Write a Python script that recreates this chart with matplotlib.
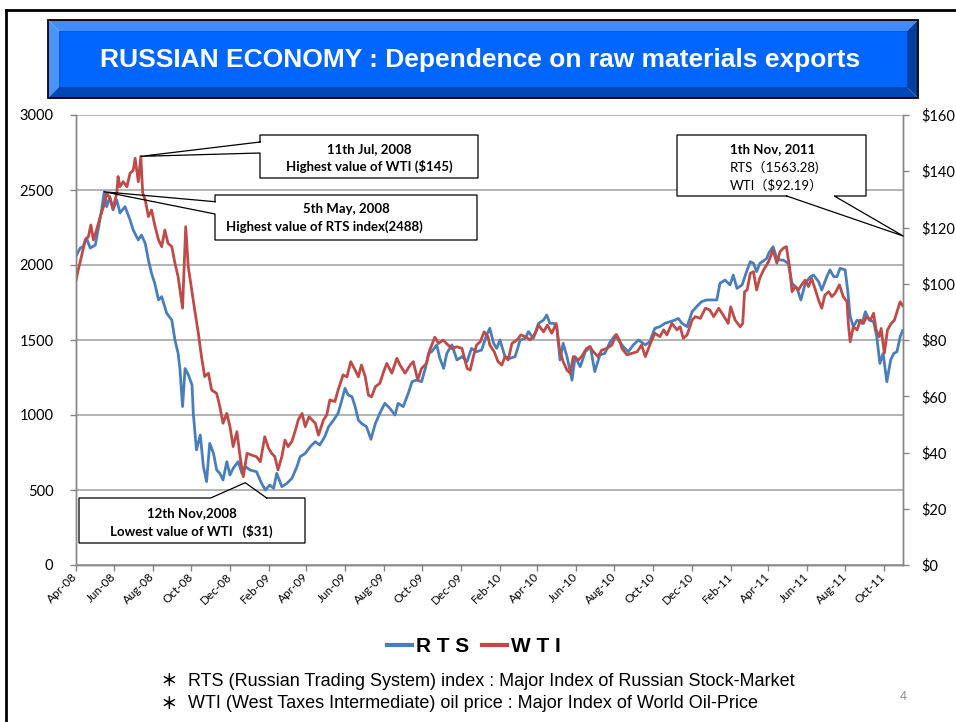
import datetime as dt

import matplotlib
matplotlib.use("Agg")
import matplotlib.pyplot as plt
import matplotlib.dates as mdates
from matplotlib.lines import Line2D
from matplotlib.patches import Polygon, Rectangle
from matplotlib.ticker import FuncFormatter

# ─── Data ─────────────────────────────────────────────────────────────────────
# days counted from 1 Apr 2008
START = dt.date(2008, 4, 1)

rts_day = [0, 7, 12, 17, 23, 31, 36, 41, 45, 49, 54, 59, 65, 70, 78, 86, 91, 99, 104, 110,
           115, 120, 125, 131, 136, 144, 152, 157, 162, 165, 169, 173, 178, 184, 186, 191, 197, 202, 207, 212,
           218, 223, 228, 233, 239, 244, 249, 257, 263, 268, 276, 286, 294, 300, 307, 313, 318, 326, 334, 342,
           350, 355, 363, 371, 379, 386, 394, 400, 408, 415, 421, 426, 431, 437, 442, 447, 452, 460, 467, 474,
           481, 489, 497, 505, 510, 518, 526, 532, 539, 547, 553, 558, 563, 571, 576, 582, 587, 595, 603, 611,
           619, 626, 634, 642, 650, 655, 661, 666, 671, 679, 687, 695, 703, 711, 716, 724, 732, 740, 745, 750,
           756, 761, 766, 771, 777, 785, 790, 798, 806, 814, 821, 829, 837, 845, 853, 866, 874, 882, 890, 901,
           908, 916, 924, 932, 940, 948, 953, 959, 967, 975, 982, 990, 998, 1014, 1019, 1027, 1035, 1040, 1046, 1054,
           1062, 1067, 1072, 1077, 1082, 1093, 1096, 1103, 1109, 1114, 1119, 1127, 1133, 1141, 1147, 1154, 1162, 1167, 1175, 1180,
           1188, 1193, 1199, 1204, 1209, 1217, 1221, 1225, 1230, 1236, 1244, 1249, 1255, 1262, 1267, 1272, 1277, 1283, 1289, 1294,
           1299, 1304, 1308]
rts_val = [2055, 2113, 2122, 2180, 2113, 2133, 2247, 2367, 2488, 2389, 2455, 2367, 2433, 2347, 2389, 2300, 2233, 2167, 2200, 2144,
           2033, 1944, 1878, 1767, 1789, 1678, 1633, 1500, 1411, 1300, 1056, 1310, 1270, 1200, 1011, 767, 867, 656, 556, 811,
           744, 633, 611, 567, 689, 600, 644, 689, 611, 656, 633, 622, 544, 500, 533, 511, 611, 522, 544, 578,
           656, 722, 744, 789, 822, 800, 856, 922, 967, 1011, 1100, 1178, 1133, 1122, 1056, 967, 944, 922, 838, 944,
           1011, 1078, 1044, 1000, 1078, 1056, 1144, 1222, 1233, 1222, 1311, 1411, 1422, 1467, 1378, 1311, 1411, 1467, 1367, 1389,
           1356, 1444, 1422, 1433, 1533, 1578, 1478, 1444, 1500, 1389, 1378, 1389, 1500, 1511, 1556, 1511, 1611, 1633, 1667, 1611,
           1611, 1589, 1367, 1478, 1389, 1233, 1389, 1322, 1422, 1456, 1289, 1400, 1411, 1485, 1530, 1456, 1422, 1467, 1500, 1467,
           1489, 1578, 1589, 1611, 1622, 1633, 1644, 1611, 1589, 1689, 1722, 1756, 1767, 1767, 1878, 1900, 1867, 1933, 1844, 1867,
           1967, 2022, 2011, 1956, 2010, 2044, 2078, 2122, 2044, 2033, 2033, 2011, 1878, 1844, 1767, 1878, 1922, 1933, 1889, 1833,
           1922, 1967, 1922, 1922, 1978, 1967, 1833, 1656, 1589, 1633, 1611, 1689, 1633, 1622, 1522, 1344, 1411, 1222, 1367, 1411,
           1422, 1522, 1563]

wti_day = [0, 4, 9, 15, 20, 24, 28, 33, 38, 44, 49, 54, 59, 65, 67, 70, 75, 81, 86, 91,
           94, 99, 103, 106, 110, 115, 120, 125, 131, 136, 141, 146, 152, 157, 162, 169, 174, 178, 184, 189,
           194, 199, 204, 210, 215, 223, 228, 233, 239, 244, 249, 255, 260, 265, 271, 278, 286, 292, 299, 305,
           310, 315, 320, 326, 331, 336, 342, 347, 352, 358, 363, 369, 379, 384, 392, 397, 402, 410, 415, 423,
           429, 435, 442, 447, 452, 458, 463, 468, 474, 481, 487, 492, 500, 508, 513, 521, 529, 534, 541, 547,
           555, 560, 568, 574, 581, 589, 595, 603, 611, 619, 624, 629, 634, 640, 646, 652, 655, 662, 668, 674,
           679, 684, 690, 698, 704, 711, 719, 727, 732, 740, 746, 753, 760, 765, 771, 777, 782, 787, 795, 800,
           808, 813, 819, 826, 832, 840, 848, 855, 860, 864, 872, 880, 888, 895, 901, 908, 916, 924, 930, 935,
           943, 951, 956, 961, 967, 975, 980, 988, 996, 1003, 1009, 1017, 1024, 1032, 1036, 1043, 1051, 1055, 1058, 1062,
           1067, 1072, 1077, 1082, 1088, 1096, 1103, 1109, 1114, 1119, 1124, 1129, 1133, 1138, 1143, 1148, 1154, 1159, 1164, 1170,
           1175, 1180, 1185, 1191, 1196, 1201, 1208, 1214, 1220, 1222, 1225, 1230, 1236, 1241, 1246, 1251, 1257, 1262, 1266, 1271,
           1274, 1279, 1284, 1290, 1295, 1300, 1304, 1308]
wti_val = [100.7, 104.9, 109.6, 115.6, 116.7, 120.9, 115.6, 119.1, 123.3, 127.4, 132.2, 130.4, 126.8, 132.2, 138.1, 134.5, 136.3, 134.5, 139.3, 140.4,
           144.6, 136.3, 145.3, 132.2, 129.8, 123.9, 126.2, 120.9, 115.6, 113.2, 119.1, 114.4, 113.2, 107.3, 102.5, 91.3, 120.3, 106.1, 97.0, 89.5,
           82.4, 74.0, 67.0, 68.2, 62.2, 61.0, 56.3, 50.4, 53.9, 49.2, 42.1, 47.4, 38.5, 31.4, 39.7, 39.1, 38.5, 36.7, 45.6, 41.5,
           39.7, 38.5, 33.8, 38.5, 44.4, 42.1, 44.0, 47.5, 51.6, 53.9, 49.2, 52.7, 50.4, 46.2, 51.6, 53.3, 58.7, 58.1, 62.2, 67.6,
           66.9, 72.3, 69.3, 66.9, 71.1, 66.9, 60.4, 59.8, 63.4, 64.6, 68.7, 71.7, 68.2, 73.5, 71.1, 68.2, 71.1, 72.3, 65.8, 69.9,
           71.7, 76.4, 81.0, 78.8, 80.0, 78.2, 77.0, 77.6, 77.0, 69.9, 69.3, 74.1, 78.2, 79.4, 82.9, 81.2, 78.2, 75.8, 72.3, 71.1,
           74.1, 72.9, 78.8, 80.0, 81.8, 81.2, 80.0, 82.4, 85.3, 82.9, 85.3, 82.4, 85.9, 77.0, 72.3, 69.3, 68.2, 74.1, 72.9, 74.1,
           77.0, 77.6, 75.8, 74.1, 76.4, 77.0, 78.2, 82.0, 80.0, 77.0, 74.7, 75.3, 75.8, 78.2, 74.1, 78.2, 82.4, 81.2, 83.6, 81.8,
           85.9, 83.6, 84.7, 80.6, 81.8, 87.1, 88.3, 87.7, 91.3, 90.7, 88.3, 91.3, 88.9, 85.9, 91.8, 87.1, 84.7, 85.9, 97.2, 97.8,
           103.7, 104.3, 97.8, 102.0, 104.9, 107.9, 112.0, 107.3, 111.4, 112.6, 113.2, 106.1, 97.2, 99.0, 97.8, 99.6, 101.3, 99.0, 101.9, 97.8,
           94.2, 91.3, 96.0, 97.2, 95.4, 96.6, 99.6, 95.4, 93.6, 85.9, 79.4, 84.7, 83.6, 87.1, 85.9, 88.3, 87.1, 89.5, 83.6, 81.2,
           84.1, 75.3, 83.6, 85.9, 87.1, 90.7, 93.6, 92.2]

rts_dates = [START + dt.timedelta(days=d) for d in rts_day]
wti_dates = [START + dt.timedelta(days=d) for d in wti_day]

# ─── Style ────────────────────────────────────────────────────────────────────
W, H = 956, 722
BLUE = "#4A7EBB"
RED = "#BE4B48"
AXIS_GREY = "#868686"
GRID_GREY = "#A6A6A6"
CAL = ["Lato", "Noto Sans CJK JP", "DejaVu Sans"]
ARIAL = ["Liberation Sans", "Noto Sans CJK JP", "DejaVu Sans"]


def fx(x):
    return x / W


def fy(y):
    return 1 - y / H


fig = plt.figure(figsize=(W / 100, H / 100), dpi=100)
fig.patch.set_facecolor("white")

# ─── Chart ────────────────────────────────────────────────────────────────────
ax = fig.add_axes([fx(75.7), fy(565), (903.3 - 75.7) / W, 450 / H])
ax2 = ax.twinx()

ax.plot(rts_dates, rts_val, color=BLUE, lw=2.0, solid_joinstyle="round")
ax2.plot(wti_dates, wti_val, color=RED, lw=2.0, solid_joinstyle="round")

ax.set_xlim(dt.date(2008, 4, 1), dt.date(2011, 11, 1))
ax.set_ylim(0, 3000)
ax2.set_ylim(0, 160)
ax.set_yticks(range(0, 3001, 500))
ax2.set_yticks(range(0, 161, 20))
ax2.yaxis.set_major_formatter(FuncFormatter(lambda v, _: f"${v:.0f}"))

ax.xaxis.set_major_locator(mdates.MonthLocator(bymonth=[2, 4, 6, 8, 10, 12]))
ax.xaxis.set_major_formatter(mdates.DateFormatter("%b-%y"))

ax.grid(axis="y", color=GRID_GREY, lw=1.2)
ax.set_axisbelow(True)

for a in (ax, ax2):
    a.spines["top"].set_visible(False)
    for s in ("left", "right", "bottom"):
        a.spines[s].set_color(AXIS_GREY)
        a.spines[s].set_linewidth(1.0)

ax.tick_params(axis="x", direction="out", length=4, width=1, color=AXIS_GREY, labelsize=8.5, pad=3)
ax.tick_params(axis="y", direction="out", length=4, width=1, color=AXIS_GREY, labelsize=10.5, pad=12)
ax2.tick_params(axis="y", direction="out", length=4, width=1, color=AXIS_GREY, labelsize=10.5, pad=9)
for lbl in ax.get_xticklabels():
    lbl.set_rotation(45)
    lbl.set_ha("right")
    lbl.set_va("center")
    lbl.set_rotation_mode("anchor")
    lbl.set_family(CAL)
for lbl in ax.get_yticklabels() + ax2.get_yticklabels():
    lbl.set_family(CAL)

# ─── Slide frame and title bar ────────────────────────────────────────────────
fig.add_artist(Line2D([fx(6), fx(W)], [fy(10), fy(10)], transform=fig.transFigure, color="black", lw=2))
fig.add_artist(Line2D([fx(6), fx(6)], [fy(10), fy(H)], transform=fig.transFigure, color="black", lw=2))

ox0, oy0, ox1, oy1 = 48, 20, 918, 98
ix0, iy0, ix1, iy1 = 59, 31, 907, 87
bevels = [
    ([(ox0, oy0), (ox1, oy0), (ix1, iy0), (ix0, iy0)], "#3E8CFF"),   # top
    ([(ox0, oy0), (ix0, iy0), (ix0, iy1), (ox0, oy1)], "#4A93FA"),   # left
    ([(ox0, oy1), (ix0, iy1), (ix1, iy1), (ox1, oy1)], "#0047B8"),   # bottom
    ([(ox1, oy0), (ox1, oy1), (ix1, iy1), (ix1, iy0)], "#003F9E"),   # right
]
for pts, col in bevels:
    fig.add_artist(Polygon([(fx(x), fy(y)) for x, y in pts], closed=True, transform=fig.transFigure,
                           facecolor=col, edgecolor="none"))
fig.add_artist(Rectangle((fx(ix0), fy(iy1)), (ix1 - ix0) / W, (iy1 - iy0) / H, transform=fig.transFigure,
                         facecolor="#0066FF", edgecolor="#0048B0", lw=0.6))
fig.add_artist(Rectangle((fx(ox0), fy(oy1)), (ox1 - ox0) / W, (oy1 - oy0) / H, transform=fig.transFigure,
                         facecolor="none", edgecolor="black", lw=1.3))
fig.text(fx(480), fy(60), "RUSSIAN ECONOMY : Dependence on raw materials exports", color="white",
         fontsize=19, fontweight="bold", family=ARIAL, ha="center", va="center")


# ─── Callouts ─────────────────────────────────────────────────────────────────
def to_px(axis, when, val):
    d = axis.transData.transform((mdates.date2num(when), val))
    return d[0], H - d[1]


def callout(box, side, a, b, tip):
    x0, y0, x1, y1 = box
    fig.add_artist(Rectangle((fx(x0), fy(y1)), (x1 - x0) / W, (y1 - y0) / H, transform=fig.transFigure,
                             facecolor="white", edgecolor="none", zorder=5))
    if side == "left":
        pts = [(x0, a), (x0, y0), (x1, y0), (x1, y1), (x0, y1), (x0, b), tip]
    elif side == "top":
        pts = [(b, y0), (x1, y0), (x1, y1), (x0, y1), (x0, y0), (a, y0), tip]
    else:
        pts = [(a, y1), (x0, y1), (x0, y0), (x1, y0), (x1, y1), (b, y1), tip]
    pts.append(pts[0])
    fig.add_artist(Line2D([fx(p[0]) for p in pts], [fy(p[1]) for p in pts], transform=fig.transFigure,
                          color="black", lw=0.9, zorder=6))


def box_text(x, y, s, weight="bold", ha="center"):
    fig.text(fx(x), fy(y), s, fontsize=9.5, fontweight=weight, family=CAL, ha=ha, va="center", zorder=7)


i_wmax = wti_val.index(max(wti_val))
i_rmax = rts_val.index(max(rts_val))
i_wmin = wti_val.index(min(wti_val))

callout((260, 135, 478, 178), "left", 142, 153, to_px(ax2, wti_dates[i_wmax], wti_val[i_wmax]))
box_text(369, 149.5, "11th Jul, 2008")
box_text(369, 166.5, "Highest value of WTI ($145)")

callout((215, 195, 477, 240), "left", 201.7, 214, to_px(ax, rts_dates[i_rmax], rts_val[i_rmax]))
box_text(346, 209, "5th May, 2008")
box_text(324, 227, "Highest value of RTS index(2488)")

low_x, low_y = to_px(ax2, wti_dates[i_wmin], wti_val[i_wmin])
callout((79, 498, 305, 543), "top", 210.7, 266.7, (low_x + 2, low_y + 6))
box_text(192, 513, "12th Nov,2008")
box_text(191, 531, "Lowest value of WTI   ($31)")

nov_tip = ax.transAxes.transform((1.0, 0.731))
callout((677, 135, 866, 196), "bottom", 786.7, 834.3, (nov_tip[0], H - nov_tip[1]))
box_text(730, 149.5, "1th Nov, 2011", ha="left")
box_text(730, 167.5, "RTS（1563.28)", weight="normal", ha="left")
box_text(730, 185, "WTI（$92.19）", weight="normal", ha="left")

# ─── Legend and notes ─────────────────────────────────────────────────────────
handles = [Line2D([], [], color=BLUE, lw=3), Line2D([], [], color=RED, lw=3)]
fig.legend(handles, ["R T S", "W T I"], loc="center", bbox_to_anchor=(fx(474), fy(647)), ncol=2,
           frameon=False, handlelength=1.2, handletextpad=0.2, columnspacing=0.6,
           prop={"family": ARIAL, "weight": "bold", "size": 15})

notes = ["RTS (Russian Trading System) index : Major Index of Russian Stock-Market",
         "WTI (West Taxes Intermediate) oil price : Major Index of World Oil-Price"]
for k, note in enumerate(notes):
    y = 681 + 23 * k
    fig.text(fx(169), fy(y), "＊", fontsize=12, fontweight="bold", family=["Noto Sans CJK JP", "DejaVu Sans"],
             ha="center", va="center")
    fig.text(fx(188), fy(y), note, fontsize=13, family=ARIAL, ha="left", va="center")
fig.text(fx(903), fy(697), "4", fontsize=9, color="#8C8C8C", family=ARIAL, ha="center", va="center")

fig.savefig("out.png", dpi=100)
